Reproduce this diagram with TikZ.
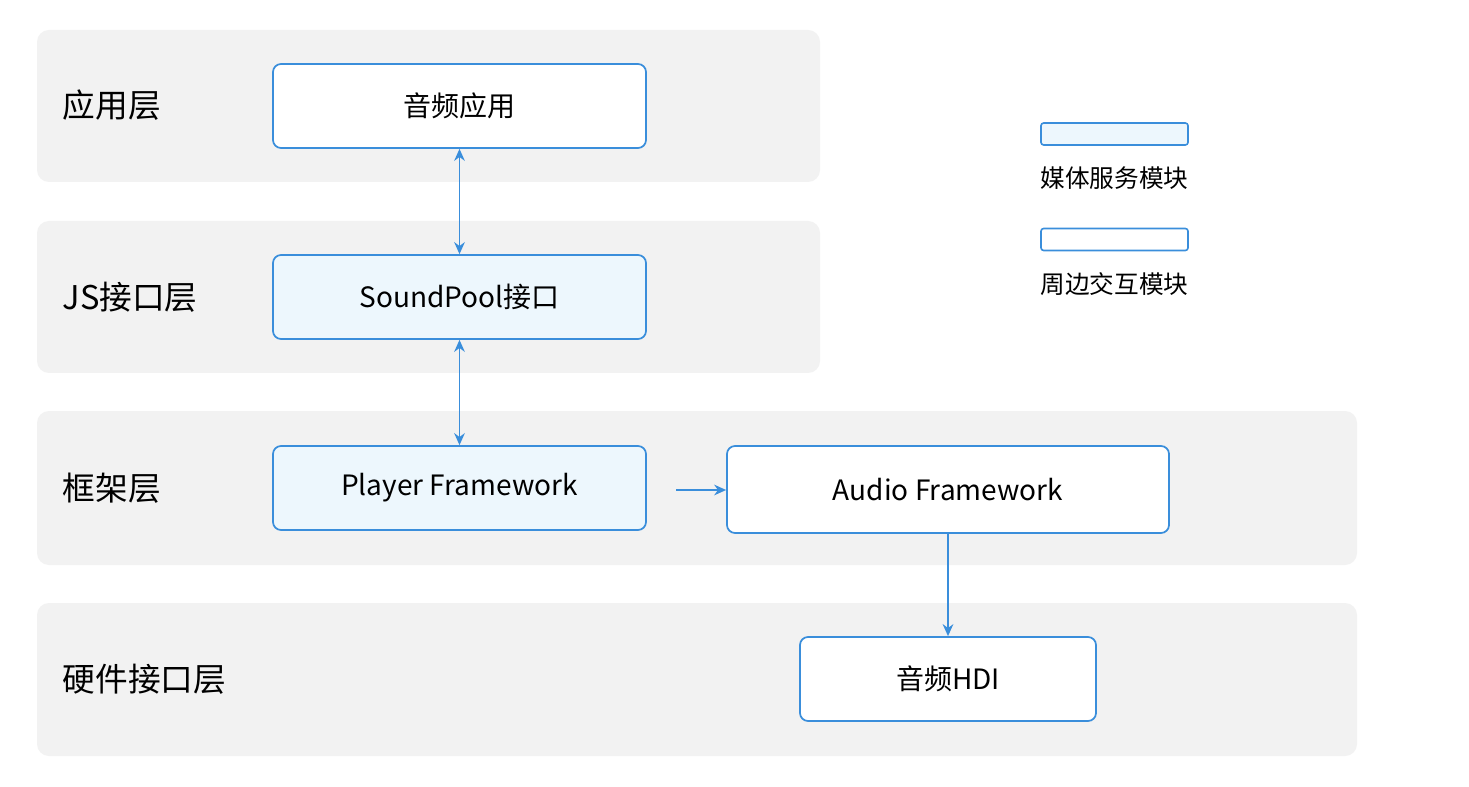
\documentclass[tikz,border=0pt]{standalone}
\usepackage{fontspec}
\setmainfont{Noto Sans CJK SC}
\usetikzlibrary{arrows.meta}
\definecolor{lay}{HTML}{F2F2F2}
\definecolor{bl}{HTML}{3A8EDB}
\definecolor{lbl}{HTML}{EDF7FD}
\begin{document}
\begin{tikzpicture}[x=0.75pt,y=-0.75pt,
  layer/.style={fill=lay,draw=none,rounded corners=9pt},
  box/.style={draw=bl,line width=1.3pt,rounded corners=6pt,fill=white},
  mbox/.style={box,fill=lbl},
  lab/.style={anchor=west,font=\fontsize{24.5}{28}\selectfont},
  txt/.style={font=\fontsize{21}{25}\selectfont},
  ltxt/.style={font=\fontsize{18.5}{22}\selectfont},
  arr/.style={draw=bl,line width=1.3pt,-{Stealth[length=9pt,width=8pt]}},
  darr/.style={arr,{Stealth[length=9pt,width=8pt]}-{Stealth[length=9pt,width=8pt]}}]
\useasboundingbox (0,0) rectangle (1469,787);
\fill[white] (0,0) rectangle (1469,787);
\path[layer] (37,30) rectangle (820,182);
\path[layer] (37,221) rectangle (820,373);
\path[layer] (37,411) rectangle (1357,565);
\path[layer] (37,603) rectangle (1357,756);
\node[lab] (l1) at (58,105) {应用层};
\node[lab] (l2) at (58,297) {JS接口层};
\node[lab] (l3) at (58,488) {框架层};
\node[lab] (l4) at (58,679) {硬件接口层};
\node[box,minimum width=373*0.75pt,minimum height=84*0.75pt,txt] (app) at (459.5,106) {音频应用};
\node[mbox,minimum width=373*0.75pt,minimum height=84*0.75pt,txt] (sp) at (459.5,297) {SoundPool接口};
\node[mbox,minimum width=373*0.75pt,minimum height=84*0.75pt,txt] (pf) at (459.5,488) {Player Framework};
\node[box,minimum width=442*0.75pt,minimum height=87*0.75pt,txt] (af) at (948,489.5) {Audio Framework};
\node[box,minimum width=296*0.75pt,minimum height=84*0.75pt,txt] (hdi) at (948,679) {音频HDI};
\draw[darr] (app) -- (sp);
\draw[darr] (sp) -- (pf);
\coordinate (ps) at (676,490);
\draw[arr] (ps) -- (af.west |- ps);
\draw[arr] (af) -- (hdi);
\node[mbox,line width=1.2pt,rounded corners=2pt,minimum width=147*0.75pt,minimum height=22*0.75pt] (lg1) at (1114.5,134) {};
\node[ltxt] (lt1) at (1114.5,178) {媒体服务模块};
\node[box,line width=1.2pt,rounded corners=2pt,minimum width=147*0.75pt,minimum height=22*0.75pt] (lg2) at (1114.5,239.5) {};
\node[ltxt] (lt2) at (1114.5,284) {周边交互模块};
\end{tikzpicture}
\end{document}
